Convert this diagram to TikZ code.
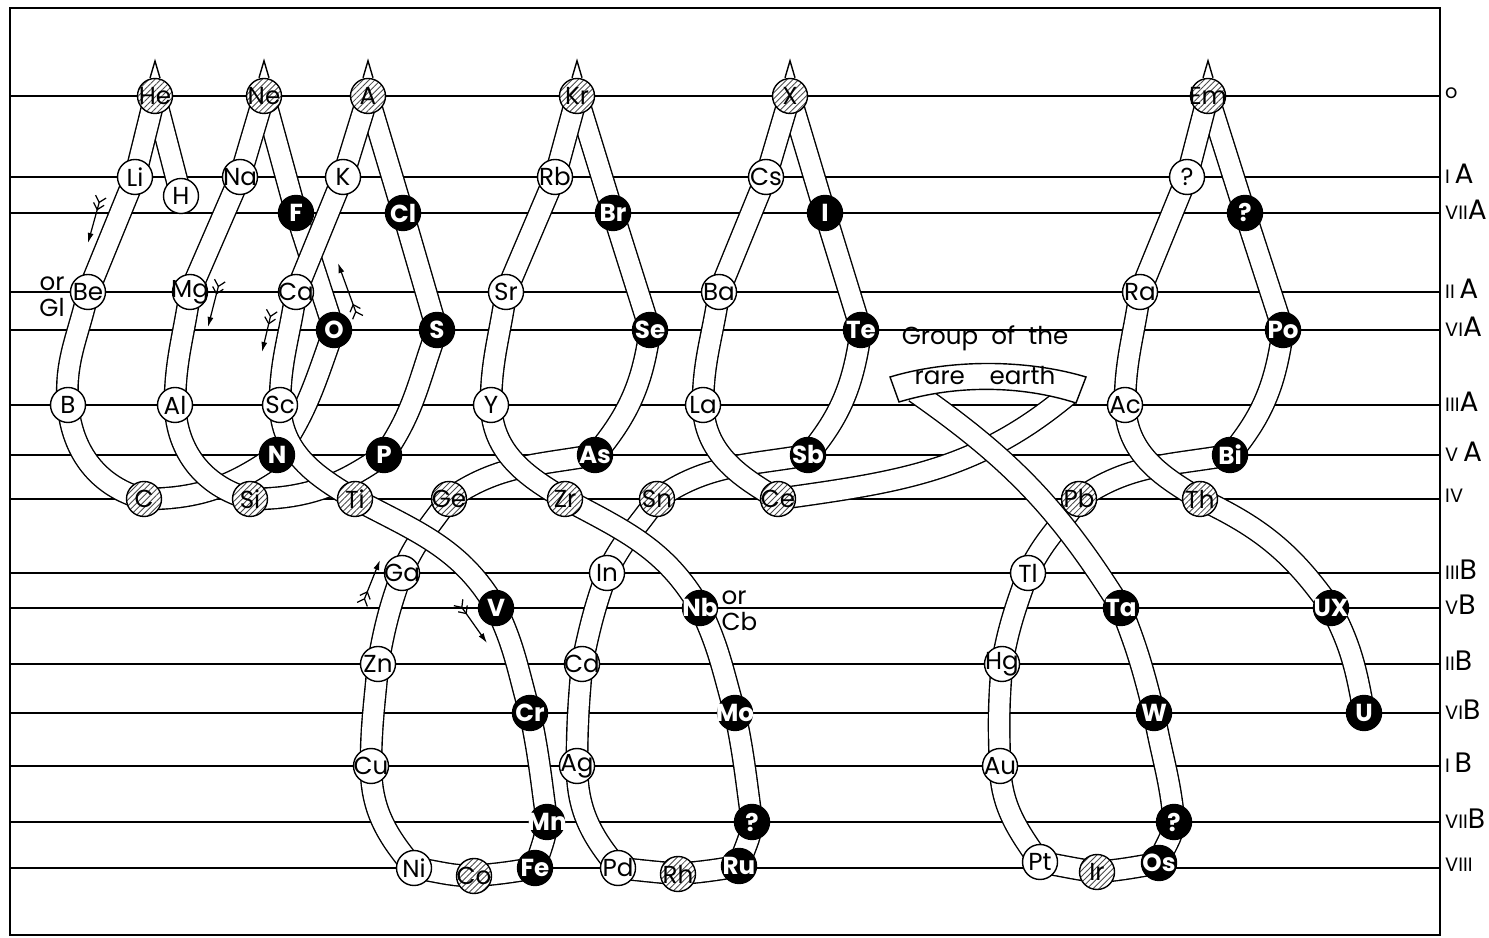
\documentclass[tikz,border=0pt]{standalone}
\usepackage{fontspec}
\setmainfont{Poppins}
\usetikzlibrary{arrows.meta,patterns.meta}
\pgfdeclarelayer{grid}
\pgfdeclarelayer{ribbons}
\pgfsetlayers{grid,ribbons,main}
\newcommand{\grpnum}[1]{{\fontsize{5.5}{6}\selectfont #1}}
\newcommand{\elfont}{\fontsize{7}{7}\selectfont}

\begin{document}
\begin{tikzpicture}[
  x=0.1mm, y=0.1mm,
  ring/.style={circle, draw, line width=0.4pt, minimum size=3.5mm, inner sep=-1.5pt, font=\elfont},
  elwhite/.style={ring, fill=white},
  elblack/.style={ring, fill=black, text=white, font=\elfont\bfseries},
  elhatch/.style={ring, preaction={fill=white},
    pattern={Lines[angle=45,distance=1.2pt,line width=0.25pt]}, pattern color=black!70},
  ribbon/.style={draw, line width=0.4pt, double=white, double distance=2mm},
  level/.style={line width=0.45pt},
  frame/.style={line width=0.6pt},
  grplabel/.style={anchor=west, inner sep=1pt, yshift=0.3mm, font=\fontsize{8}{8}\selectfont},
  note/.style={inner sep=0pt, font=\fontsize{7}{7.4}\selectfont},
  spike/.style={line width=0.4pt},
  band/.style={draw, fill=white, line width=0.4pt},
  feather/.style={line width=0.35pt,
    {Straight Barb[reversed,length=0.6mm,width=1.1mm] Straight Barb[reversed,length=0.6mm,width=1.1mm]}-{Latex[length=1mm,width=0.6mm]}},
]
  \useasboundingbox (0,0) rectangle (1489,938);

  \begin{pgfonlayer}{grid}
    \draw[frame] (10,3) rectangle (1440,930);
    \foreach \y/\lab [count=\i] in {842/{\grpnum{o}}, 761/{\grpnum{I}\,A}, 725/{\grpnum{VII}A}, 646/{\grpnum{II}\,A},
        608/{\grpnum{VI}A}, 533/{\grpnum{III}A}, 483/{\grpnum{V}\,A}, 439/{\grpnum{IV}},
        365/{\grpnum{III}B}, 330/{\grpnum{V}B}, 274/{\grpnum{II}B}, 225/{\grpnum{VI}B},
        172/{\grpnum{I}\,B}, 116/{\grpnum{VII}B}, 70/{\grpnum{VIII}}} {
      \draw[level] (10,\y) -- (1440,\y);
      \node[grplabel] (lv\i) at (1441,\y) {\lab};
    }
  \end{pgfonlayer}

  \node[elhatch] (He) at (155,842) {He};
  \node[elhatch] (Ne) at (264,842) {Ne};
  \node[elhatch] (A) at (368,842) {A};
  \node[elhatch] (Kr) at (577,842) {Kr};
  \node[elhatch] (X) at (790,842) {X};
  \node[elhatch] (Em) at (1208,842) {Em};

  \node[elwhite] (Li) at (135,761) {Li};
  \node[elwhite] (H) at (181,742) {H};
  \node[elwhite] (Na) at (240,761) {Na};
  \node[elwhite] (K) at (343,761) {K};
  \node[elwhite] (Rb) at (555,761) {Rb};
  \node[elwhite] (Cs) at (766,761) {Cs};
  \node[elwhite] (q1) at (1187,761) {?};

  \node[elblack] (F) at (296,725) {F};
  \node[elblack] (Cl) at (403,725) {Cl};
  \node[elblack] (Br) at (613,725) {Br};
  \node[elblack] (I) at (825,725) {I};
  \node[elblack] (q2) at (1245,725) {?};

  \node[elwhite] (Be) at (88,646) {Be};
  \node[elwhite] (Mg) at (190,646) {Mg};
  \node[elwhite] (Ca) at (296,646) {Ca};
  \node[elwhite] (Sr) at (506,646) {Sr};
  \node[elwhite] (Ba) at (719,646) {Ba};
  \node[elwhite] (Ra) at (1140,646) {Ra};

  \node[elblack] (O) at (334,608) {O};
  \node[elblack] (S) at (437,608) {S};
  \node[elblack] (Se) at (650,608) {Se};
  \node[elblack] (Te) at (861,608) {Te};
  \node[elblack] (Po) at (1283,608) {Po};

  \node[elwhite] (B) at (68,533) {B};
  \node[elwhite] (Al) at (175,533) {Al};
  \node[elwhite] (Sc) at (280,533) {Sc};
  \node[elwhite] (Y) at (491,533) {Y};
  \node[elwhite] (La) at (703,533) {La};
  \node[elwhite] (Ac) at (1125,533) {Ac};

  \node[elblack] (N) at (277,483) {N};
  \node[elblack] (P) at (384,483) {P};
  \node[elblack] (As) at (595,483) {As};
  \node[elblack] (Sb) at (808,483) {Sb};
  \node[elblack] (Bi) at (1230,483) {Bi};

  \node[elhatch] (C) at (144,439) {C};
  \node[elhatch] (Si) at (250,439) {Si};
  \node[elhatch] (Ti) at (355,439) {Ti};
  \node[elhatch] (Ge) at (449,439) {Ge};
  \node[elhatch] (Zr) at (565,439) {Zr};
  \node[elhatch] (Sn) at (657,439) {Sn};
  \node[elhatch] (Ce) at (778,439) {Ce};
  \node[elhatch] (Pb) at (1079,439) {Pb};
  \node[elhatch] (Th) at (1200,439) {Th};

  \node[elwhite] (Ga) at (402,365) {Ga};
  \node[elwhite] (In) at (607,365) {In};
  \node[elwhite] (Tl) at (1028,365) {Tl};

  \node[elblack] (V) at (496,330) {V};
  \node[elblack] (Nb) at (700,330) {Nb};
  \node[elblack] (Ta) at (1121,330) {Ta};
  \node[elblack] (UX) at (1331,330) {UX};

  \node[elwhite] (Zn) at (378,274) {Zn};
  \node[elwhite] (Cd) at (582,274) {Cd};
  \node[elwhite] (Hg) at (1002,274) {Hg};

  \node[elblack] (Cr) at (530,225) {Cr};
  \node[elblack] (Mo) at (735,225) {Mo};
  \node[elblack] (W) at (1154,225) {W};
  \node[elblack] (U) at (1364,225) {U};

  \node[elwhite] (Cu) at (371,172) {Cu};
  \node[elwhite] (Ag) at (577,172) {Ag};
  \node[elwhite] (Au) at (1000,172) {Au};

  \node[elblack] (Mn) at (547,116) {Mn};
  \node[elblack] (q3) at (752,116) {?};
  \node[elblack] (q4) at (1174,116) {?};

  \node[elwhite] (Ni) at (414,70) {Ni};
  \node[elhatch] (Co) at (474,62) {Co};
  \node[elblack] (Fe) at (535,70) {Fe};
  \node[elwhite] (Pd) at (618,70) {Pd};
  \node[elhatch] (Rh) at (678,64) {Rh};
  \node[elblack] (Ru) at (739,72) {Ru};
  \node[elwhite] (Pt) at (1040,76) {Pt};
  \node[elhatch] (Ir) at (1097,66) {Ir};
  \node[elblack] (Os) at (1159,75) {Os};

  \coordinate (reR) at (1069,544);
  \coordinate (reL) at (915,546);

  \begin{pgfonlayer}{ribbons}
    % strands at the back
    \draw[ribbon] (C.center) to[out=0,in=215] (N.center) to[out=55,in=250] (O.center) -- (F.center) -- (Ne.center);
    \draw[ribbon] (Si.center) to[out=0,in=215] (P.center) to[out=55,in=250] (S.center) -- (Cl.center) -- (A.center);
    \draw[ribbon] (Fe.center) to[out=190,in=5] (Co.center) to[out=180,in=-8] (Ni.center)
      to[out=130,in=-90] (Cu.center) to[out=90,in=-95] (Zn.center) to[out=80,in=-110] (Ga.center)
      to[out=68,in=-125] (Ge.center) to[out=35,in=190] (As.center) to[out=50,in=262] (Se.center)
      -- (Br.center) -- (Kr.center);
    \draw[ribbon] (Ru.center) to[out=190,in=5] (Rh.center) to[out=175,in=-6] (Pd.center)
      to[out=130,in=-90] (Ag.center) to[out=90,in=-95] (Cd.center) to[out=78,in=-110] (In.center)
      to[out=65,in=-125] (Sn.center) to[out=35,in=190] (Sb.center) to[out=50,in=262] (Te.center)
      -- (I.center) -- (X.center);
    \draw[ribbon] (Ce.center) to[out=8,in=220] (reR);
    \draw[ribbon] (Os.center) to[out=190,in=5] (Ir.center) to[out=172,in=-10] (Pt.center)
      to[out=125,in=-88] (Au.center) to[out=92,in=-95] (Hg.center) to[out=80,in=-110] (Tl.center)
      to[out=65,in=-125] (Pb.center) to[out=35,in=190] (Bi.center) to[out=50,in=262] (Po.center)
      -- (q2.center) -- (Em.center);
    % strands in front
    \draw[ribbon] (He.center) -- (H.center);
    \draw[ribbon] (He.center) -- (Li.center) -- (Be.center) to[out=258,in=95] (B.center) to[out=275,in=165] (C.center);
    \draw[ribbon] (Ne.center) -- (Na.center) -- (Mg.center) to[out=262,in=90] (Al.center) to[out=272,in=165] (Si.center);
    \draw[ribbon] (A.center) -- (K.center) -- (Ca.center) to[out=262,in=90] (Sc.center)
      to[out=272,in=150] (Ti.center) to[out=-28,in=120] (V.center) to[out=-64,in=106] (Cr.center)
      to[out=-78,in=98] (Mn.center) to[out=-95,in=75] (Fe.center);
    \draw[ribbon] (Kr.center) -- (Rb.center) -- (Sr.center) to[out=262,in=90] (Y.center)
      to[out=272,in=150] (Zr.center) to[out=-28,in=120] (Nb.center) to[out=-64,in=106] (Mo.center)
      to[out=-78,in=98] (q3.center) to[out=-95,in=75] (Ru.center);
    \draw[ribbon] (X.center) -- (Cs.center) -- (Ba.center) to[out=262,in=90] (La.center) to[out=272,in=150] (Ce.center);
    \draw[ribbon] (reL) to[out=-35,in=122] (Ta.center) to[out=-68,in=104] (W.center)
      to[out=-80,in=95] (q4.center) to[out=-95,in=75] (Os.center);
    \draw[ribbon] (Em.center) -- (q1.center) -- (Ra.center) to[out=262,in=90] (Ac.center)
      to[out=272,in=150] (Th.center) to[out=-25,in=125] (UX.center) to[out=-62,in=100] (U.center);
  \end{pgfonlayer}

  \foreach \g in {He,Ne,A,Kr,X,Em}
    \draw[spike] ([xshift=-0.5mm]\g.north) -- ([yshift=1.7mm]\g.north) -- ([xshift=0.5mm]\g.north);

  \draw[band] (890,561) .. controls (950,579) and (1026,579) .. (1086,561) -- (1076,535)
    .. controls (1020,553) and (955,553) .. (899,536) -- cycle;
  \node[note] (reTop) at (985,600) {Group\ \ of\ \ the};
  \node[note] (reBot) at (985,562) {rare\quad earth};

  \node[note, align=center] (glAlt) at (52,641) {or\\Gl};
  \node[note, align=left, anchor=west] (cbAlt) at (721,327) {or\\Cb};

  \coordinate (f1a) at (101,742); \coordinate (f1b) at (88,695);
  \coordinate (f2a) at (220,658); \coordinate (f2b) at (208,611);
  \coordinate (f3a) at (272,628); \coordinate (f3b) at (262,586);
  \coordinate (f4a) at (358,620); \coordinate (f4b) at (338,675);
  \coordinate (f5a) at (362,333); \coordinate (f5b) at (380,378);
  \coordinate (f6a) at (458,336); \coordinate (f6b) at (487,295);
  \foreach \i in {1,...,6}
    \draw[feather] (f\i a) -- (f\i b);
\end{tikzpicture}
\end{document}
